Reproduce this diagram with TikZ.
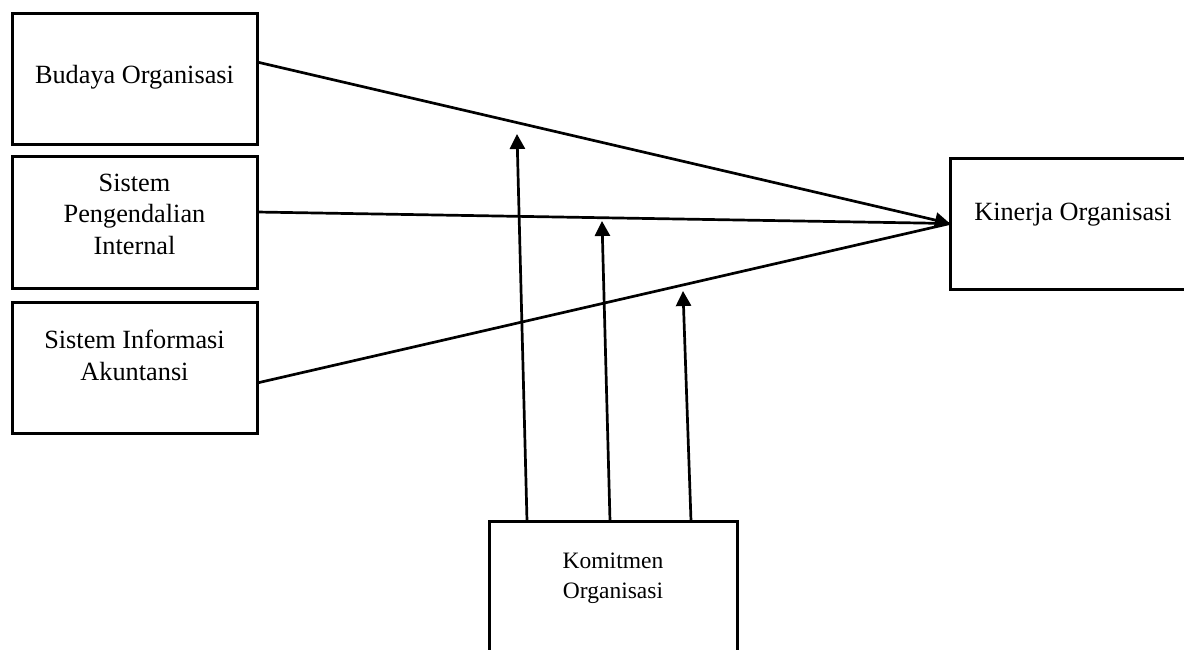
\documentclass[tikz,border=0pt]{standalone}
\usepackage{fontspec}
\setmainfont{Liberation Serif}
\usetikzlibrary{arrows.meta}
\begin{document}
\begin{tikzpicture}[x=1pt,y=-1pt,
  box/.style={draw,line width=3pt,inner sep=0pt,outer sep=0pt,minimum width=245pt,minimum height=131pt},
  lbl/.style={font=\fontsize{26.3}{31.5}\selectfont,align=center,anchor=base,inner sep=0pt},
  klbl/.style={font=\fontsize{23.5}{30}\selectfont,align=center,anchor=base,inner sep=0pt},
  conn/.style={line width=2.7pt},
  arr/.style={conn,-{Triangle[length=15pt,width=15pt]}}]
\useasboundingbox (0,0) rectangle (1184,649);
\clip (0,0) rectangle (1184,649);
\fill[white] (0,0) rectangle (1184,649);
% boxes
\node[box] (bo) at (134.5,78.5) {};
\node[box,minimum height=132pt] (spi) at (134.5,222) {};
\node[box] (sia) at (134.5,367.5) {};
\node[box] (kin) at (1072.5,223.5) {};
\node[box,minimum width=248pt,minimum height=179pt] (kom) at (613,610.5) {};
% labels
\node[lbl] (tbo) at (134.5,83) {Budaya Organisasi};
\node[lbl] (tspi) at (134.5,254) {Sistem\\Pengendalian\\Internal};
\node[lbl] (tsia) at (134.5,380) {Sistem Informasi\\Akuntansi};
\node[lbl] (tkin) at (1073,220) {Kinerja Organisasi};
\node[klbl] (tkom) at (613,598) {Komitmen\\Organisasi};
% direct paths
\draw[arr] (bo.east |- 0,62) -- (kin.west);
\draw[conn] (spi.east |- 0,212) -- (kin.west);
\draw[conn] (sia.east |- 0,383) -- (kin.west);
% moderating arrows
\coordinate (m1) at (517,134);
\coordinate (m2) at (602,221);
\coordinate (m3) at (683,291);
\draw[arr] (kom.north -| 527,0) -- (m1);
\draw[arr] (kom.north -| 610,0) -- (m2);
\draw[arr] (kom.north -| 691,0) -- (m3);
\end{tikzpicture}
\end{document}
